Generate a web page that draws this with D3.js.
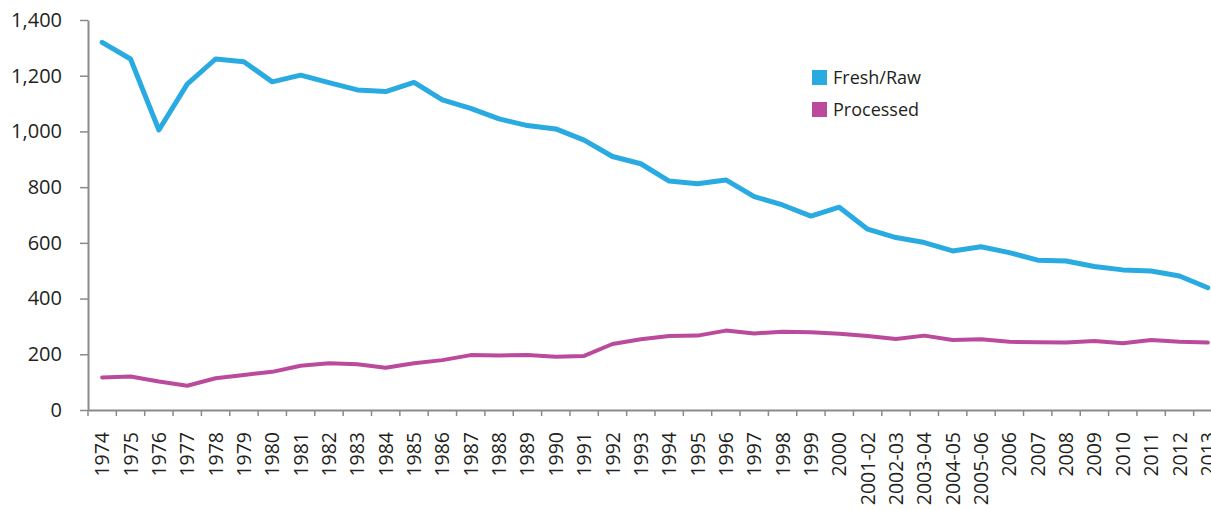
<!DOCTYPE html>
<html>
<head>
<meta charset="utf-8">
<script src="https://cdn.jsdelivr.net/npm/d3@7"></script>
<style>
  body { margin: 0; background: #fff; }
  svg { display: block; font-family: "Open Sans", sans-serif; }
  .axis path, .axis line { stroke: #8a8a8a; }
  .axis text { fill: #231f20; }
</style>
</head>
<body>
<script>
// categories on the x axis
var years = ["1974","1975","1976","1977","1978","1979","1980","1981","1982","1983",
  "1984","1985","1986","1987","1988","1989","1990","1991","1992","1993",
  "1994","1995","1996","1997","1998","1999","2000","2001-02","2002-03","2003-04",
  "2004-05","2005-06","2006","2007","2008","2009","2010","2011","2012","2013"];

// series values
var freshRaw = [1320,1260,1005,1170,1260,1250,1178,1202,1175,1149,
  1143,1176,1113,1083,1045,1021,1009,969,910,884,
  822,812,826,766,736,696,728,649,619,601,
  571,586,565,538,535,515,503,499,481,439];

var processed = [117,120,102,87,114,126,137,159,168,164,
  152,168,179,197,196,197,191,194,237,254,
  266,267,285,275,281,279,274,266,255,267,
  251,254,245,243,242,248,240,251,245,242];

var yTicks = [0,200,400,600,800,1000,1200,1400];

var seriesNames = ["Fresh/Raw", "Processed"];
var colors = ["#29abe2", "#bb4a9c"];

var svgWidth = 1211;
var svgHeight = 510;
var margin = { top: 20, left: 88 };
var plotWidth = 1134;   // runs a little past the right edge, like the original
var plotHeight = 390;

var svg = d3.select("body")
  .append("svg")
  .attr("width", svgWidth)
  .attr("height", svgHeight);

var chartGroup = svg.append("g")
  .attr("transform", `translate(${margin.left}, ${margin.top})`);

var x = d3.scaleBand()
  .domain(years)
  .range([0, plotWidth]);

var y = d3.scaleLinear()
  .domain([0, 1400])
  .range([plotHeight, 0]);

// y axis
var leftAxis = d3.axisLeft(y)
  .tickValues(yTicks)
  .tickSize(8)
  .tickSizeOuter(0)
  .tickPadding(18)
  .tickFormat(d3.format(","));

var yAxisG = chartGroup.append("g")
  .attr("class", "axis")
  .call(leftAxis)
  .attr("font-family", "'Open Sans', sans-serif");
yAxisG.select(".domain").attr("stroke-width", 2);
yAxisG.selectAll(".tick line").attr("stroke-width", 1.5);
yAxisG.selectAll("text").style("font-size", "20px");

// x axis: labels at band centres, ticks at band edges
var bottomAxis = d3.axisBottom(x)
  .tickSize(0)
  .tickSizeOuter(0)
  .tickPadding(0);

var xAxisG = chartGroup.append("g")
  .attr("class", "axis")
  .attr("transform", `translate(0, ${plotHeight})`)
  .call(bottomAxis)
  .attr("font-family", "'Open Sans', sans-serif");
xAxisG.select(".domain").attr("stroke-width", 2);
xAxisG.selectAll("text")
  .attr("transform", "rotate(-90)")
  .attr("x", -22)
  .attr("y", 0)
  .attr("dy", "0.36em")
  .style("text-anchor", "end")
  .style("font-size", "19.5px");

xAxisG.selectAll(".edge")
  .data(years)
  .enter()
  .append("line")
  .attr("class", "edge")
  .attr("x1", d => x(d))
  .attr("x2", d => x(d))
  .attr("y1", 0)
  .attr("y2", 6)
  .attr("stroke-width", 1.5);

// lines
var line = d3.line()
  .x((d, i) => x(years[i]) + x.bandwidth() / 2)
  .y(d => y(d));

chartGroup.append("path")
  .datum(processed)
  .attr("fill", "none")
  .attr("stroke", colors[1])
  .attr("stroke-width", 4)
  .attr("stroke-linejoin", "round")
  .attr("stroke-linecap", "round")
  .attr("d", line);

chartGroup.append("path")
  .datum(freshRaw)
  .attr("fill", "none")
  .attr("stroke", colors[0])
  .attr("stroke-width", 5)
  .attr("stroke-linejoin", "round")
  .attr("stroke-linecap", "round")
  .attr("d", line);

// legend
var legend = svg.append("g")
  .attr("transform", "translate(812, 70)");

var items = legend.selectAll("g")
  .data(seriesNames)
  .enter()
  .append("g")
  .attr("transform", (d, i) => `translate(0, ${i * 32})`);

items.append("rect")
  .attr("width", 15)
  .attr("height", 15)
  .attr("fill", (d, i) => colors[i]);

items.append("text")
  .attr("x", 21)
  .attr("y", 7.5)
  .attr("dy", "0.35em")
  .style("font-size", "18px")
  .style("fill", "#231f20")
  .text(d => d);
</script>
</body>
</html>
